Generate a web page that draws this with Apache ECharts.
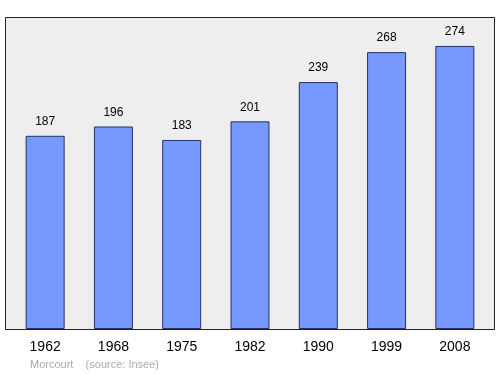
<!DOCTYPE html>
<html><head><meta charset="utf-8">
<script src="https://cdn.jsdelivr.net/npm/echarts@6/dist/echarts.min.js"></script>
<style>html,body{margin:0;padding:0;background:#fff}#c{width:500px;height:374px}</style>
</head><body><div id="c"></div>
<script>
const categories = ['1962','1968','1975','1982','1990','1999','2008'];
const population = [187,196,183,201,239,268,274];
const chart = echarts.init(document.getElementById('c'), null, {renderer:'canvas'});
chart.setOption({
  animation:false,
  graphic:[
    {type:'rect', shape:{x:5.5,y:17.5,width:489,height:312}, style:{fill:'#eeeeee', stroke:'#222', lineWidth:1}, z:-10},
    {type:'text', left:30, top:359, style:{text:'Morcourt    (source: Insee)', fill:'#aaaaaa', font:'11px "Liberation Sans", Arial, sans-serif'}}
  ],
  grid:{left:11, right:11, top:17, bottom:45},
  xAxis:{type:'category', data:categories, boundaryGap:true,
    axisLine:{show:false}, axisTick:{show:false},
    axisLabel:{color:'#000', fontSize:14, fontFamily:'Liberation Sans, Arial, sans-serif', margin:11}},
  yAxis:{type:'value', min:0, max:302, show:false, splitLine:{show:false}},
  series:[{type:'bar', data:population, barWidth:39,
    itemStyle:{color:'#7799ff', borderColor:'#223366', borderWidth:1},
    label:{show:true, position:'top', distance:8, color:'#000', fontSize:12, fontFamily:'Liberation Sans, Arial, sans-serif'}}]
});
</script></body></html>
